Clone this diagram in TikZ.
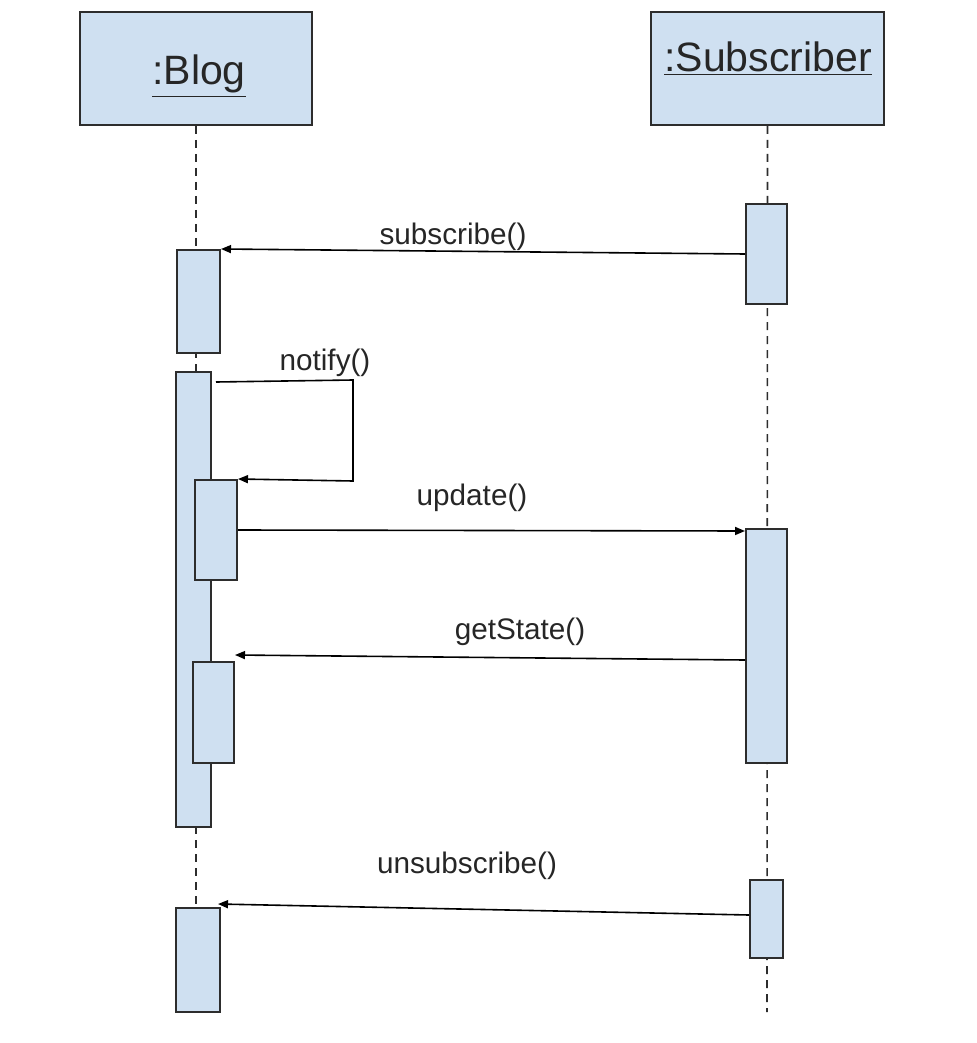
\documentclass[tikz,border=0pt]{standalone}
\usepackage{fontspec}
\setmainfont{Liberation Sans}
\usetikzlibrary{arrows.meta,calc}
\definecolor{actfill}{RGB}{207,224,241}
\definecolor{edge}{RGB}{45,45,45}
\newcommand{\objul}[1]{\underline{#1}}
\begin{document}
\begin{tikzpicture}[x=0.5pt,y=-0.5pt,
  objbox/.style={draw=edge,line width=1pt,fill=actfill,rectangle,inner sep=0pt,minimum width=116pt,minimum height=56.5pt},
  objlabel/.style={inner sep=0pt,font=\fontsize{20.5pt}{24pt}\selectfont,text=black!85},
  actbox/.style={draw=edge,line width=1pt,fill=actfill,rectangle,inner sep=0pt},
  lifeline/.style={draw=edge,line width=0.8pt,dash pattern=on 4pt off 3pt},
  msg/.style={draw=black,line width=0.8pt,-{Triangle[length=5pt,width=4pt]}},
  msglabel/.style={inner sep=0pt,font=\fontsize{14.85pt}{17pt}\selectfont,text=black!85}]
\useasboundingbox (0,0) rectangle (976,1043);
% objects
\node[objbox] (blog) at (196,68.5) {};
\node[objbox,minimum width=116.5pt] (sub) at (767.5,68.5) {};
\node[objlabel] (bloglbl) at (199,76) {\objul{:Blog}};
\node[objlabel] (sublbl) at (768,59) {\objul{:Subscriber}};
% lifeline ends
\coordinate (blogend) at (196,1012);
\coordinate (subend) at (767,1012);
\draw[lifeline] (blog.south) -- (blogend);
\draw[lifeline] (sub.south) -- (subend);
% activations
\node[actbox,minimum width=20.5pt,minimum height=50pt] (a1) at (766.5,254) {};
\node[actbox,minimum width=21.5pt,minimum height=51.5pt] (b1) at (198.5,301.5) {};
\node[actbox,minimum width=17.5pt,minimum height=227.5pt] (b2) at (193.5,599.5) {};
\node[actbox,minimum width=21pt,minimum height=50pt] (b3) at (216,530) {};
\node[actbox,minimum width=20.5pt,minimum height=117pt] (a2) at (766.5,646) {};
\node[actbox,minimum width=20.5pt,minimum height=50.5pt] (b4) at (213.5,712.5) {};
\node[actbox,minimum width=16.5pt,minimum height=39pt] (a3) at (766.5,919) {};
\node[actbox,minimum width=22pt,minimum height=52pt] (b5) at (198,960) {};
% messages
\draw[msg] (a1.west) -- (b1.north east);
\coordinate (n0) at ($(b2.north east)+(4,11)$);
\coordinate (n1) at (353,380);
\coordinate (n2) at (353,481);
\draw[msg] (n0) -- (n1) -- (n2) -- (b3.north east);
\coordinate (ue) at ($(a2.north west)+(0,3)$);
\draw[msg] (b3.east) -- (ue);
\coordinate (gs) at ($(a2.west)+(0,14)$);
\coordinate (ge) at ($(b4.north east)+(0,-6)$);
\draw[msg] (gs) -- (ge);
\coordinate (us) at ($(a3.west)+(0,-4)$);
\coordinate (ve) at ($(b5.north east)+(-3,-3)$);
\draw[msg] (us) -- (ve);
% labels
\node[msglabel] (l1) at (453,237) {subscribe()};
\node[msglabel] (l2) at (325,363) {notify()};
\node[msglabel] (l3) at (472,498) {update()};
\node[msglabel] (l4) at (520,632) {getState()};
\node[msglabel] (l5) at (467,866) {unsubscribe()};
\end{tikzpicture}
\end{document}
